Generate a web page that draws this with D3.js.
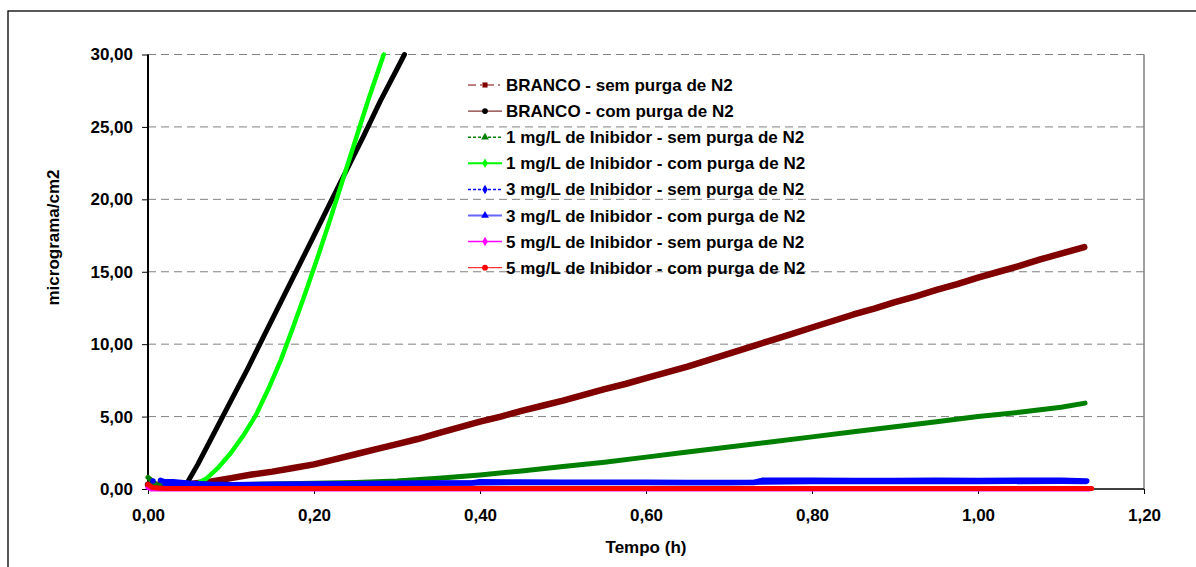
<!DOCTYPE html>
<html>
<head>
<meta charset="utf-8">
<script src="https://cdn.jsdelivr.net/npm/d3@7"></script>
<style>
  body { margin: 0; background: #fff; }
  text { font-family: "Liberation Sans", Arial, sans-serif; font-weight: bold; fill: #000; }
</style>
</head>
<body>
<svg id="chart" width="1196" height="567"></svg>
<script>
// Axis ticks
const xTicks = [0, 0.2, 0.4, 0.6, 0.8, 1.0, 1.2];
const yTicks = [0, 5, 10, 15, 20, 25, 30];

// Series names (legend order = drawing order)
const seriesNames = [
  "BRANCO - sem purga de N2",
  "BRANCO - com purga de N2",
  "1 mg/L de Inibidor - sem purga de N2",
  "1 mg/L de Inibidor - com purga de N2",
  "3 mg/L de Inibidor - sem purga de N2",
  "3 mg/L de Inibidor - com purga de N2",
  "5 mg/L de Inibidor - sem purga de N2",
  "5 mg/L de Inibidor - com purga de N2"
];

// BRANCO - sem purga de N2
const brancoSemT = [0, 0.025, 0.05, 0.075, 0.1, 0.125, 0.15, 0.175, 0.2, 0.225, 0.25, 0.275, 0.3, 0.325, 0.35, 0.375,
  0.4, 0.425, 0.45, 0.475, 0.5, 0.525, 0.55, 0.575, 0.6, 0.625, 0.65, 0.675, 0.7, 0.725, 0.75, 0.775, 0.8, 0.825,
  0.85, 0.875, 0.9, 0.925, 0.95, 0.975, 1.0, 1.025, 1.05, 1.075, 1.1, 1.128];
const brancoSemV = [0.3, 0.3, 0.35, 0.5, 0.75, 1.0, 1.2, 1.45, 1.7, 2.05, 2.4, 2.75, 3.1, 3.45, 3.85, 4.25,
  4.65, 5.0, 5.4, 5.75, 6.1, 6.5, 6.9, 7.25, 7.65, 8.05, 8.45, 8.9, 9.35, 9.8, 10.25, 10.7, 11.15, 11.6,
  12.05, 12.45, 12.9, 13.3, 13.75, 14.15, 14.6, 15.0, 15.4, 15.85, 16.25, 16.7];

// BRANCO - com purga de N2
const brancoComT = [0.045, 0.06, 0.08, 0.1, 0.12, 0.14, 0.16, 0.18, 0.2, 0.22, 0.24, 0.26, 0.28, 0.3, 0.309];
const brancoComV = [0.2, 1.7, 3.9, 6.1, 8.3, 10.6, 12.9, 15.2, 17.5, 19.8, 22.1, 24.4, 26.8, 29.0, 30.0];

// 1 mg/L - sem purga de N2
const ini1SemT = [0, 0.01, 0.05, 0.1, 0.15, 0.2, 0.25, 0.3, 0.35, 0.4, 0.45, 0.5, 0.55, 0.6, 0.65, 0.7, 0.75,
  0.8, 0.85, 0.9, 0.95, 1.0, 1.05, 1.1, 1.129];
const ini1SemV = [0.8, 0.3, 0.25, 0.3, 0.35, 0.4, 0.45, 0.55, 0.75, 0.97, 1.25, 1.55, 1.85, 2.2, 2.55, 2.9, 3.25,
  3.6, 3.95, 4.3, 4.65, 5.0, 5.3, 5.65, 5.93];

// 1 mg/L - com purga de N2
const ini1ComT = [0.055, 0.07, 0.085, 0.1, 0.115, 0.13, 0.145, 0.16, 0.175, 0.19, 0.205, 0.22, 0.235, 0.25, 0.265, 0.284];
const ini1ComV = [0.25, 0.7, 1.5, 2.5, 3.7, 5.1, 6.9, 8.9, 11.2, 13.6, 16.1, 18.7, 21.4, 24.1, 26.8, 30.0];

// 3 mg/L - sem purga de N2 (null = gap)
const ini3SemT = [0.006, 0.01, 0.015, 0.02, 0.03, 0.05, 0.075, 0.1, 0.15, 0.2, 0.25, 0.3, 0.35, 0.39, 0.4, 0.45,
  0.5, 0.55, 0.6, 0.65, 0.7, 0.73, 0.74, 0.8, 0.85, 0.9, 0.95, 1.0, 1.05, 1.1, 1.131];
const ini3SemV = [0.55, null, 0.6, 0.5, 0.5, 0.4, 0.33, 0.3, 0.32, 0.35, 0.37, 0.4, 0.42, 0.42, 0.5, 0.48,
  0.47, 0.46, 0.46, 0.45, 0.45, 0.45, 0.6, 0.6, 0.58, 0.58, 0.6, 0.58, 0.6, 0.6, 0.55];

// 3 mg/L - com purga de N2
const ini3ComT = [0.02, 0.1, 0.2, 0.3, 0.4, 0.5, 0.6, 0.7, 0.8, 0.9, 1.0, 1.1, 1.13];
const ini3ComV = [0.35, 0.3, 0.33, 0.38, 0.42, 0.43, 0.43, 0.44, 0.5, 0.5, 0.5, 0.52, 0.5];

// 5 mg/L - sem purga de N2
const ini5SemT = [0, 0.004, 0.1, 0.3, 0.5, 0.7, 0.9, 1.1, 1.134];
const ini5SemV = [0.1, 0.0, 0.0, 0.0, 0.0, 0.0, 0.0, 0.0, 0.0];

// 5 mg/L - com purga de N2
const ini5ComT = [0, 0.005, 0.02, 0.1, 0.3, 0.5, 0.7, 0.9, 1.1, 1.137];
const ini5ComV = [0.3, 0.1, 0.04, 0.03, 0.03, 0.03, 0.03, 0.03, 0.03, 0.03];

const seriesT = [brancoSemT, brancoComT, ini1SemT, ini1ComT, ini3SemT, ini3ComT, ini5SemT, ini5ComT];
const seriesV = [brancoSemV, brancoComV, ini1SemV, ini1ComV, ini3SemV, ini3ComV, ini5SemV, ini5ComV];

// Styling
const plotColors   = ["#800000", "#000000", "#008000", "#00FF00", "#0000FF", "#0000FF", "#FF00FF", "#FF0000"];
const plotWidths   = [6.5, 5, 5, 4.5, 5.5, 5, 5, 5];
const legendLine   = ["#800000", "#600000", "#008000", "#00FF00", "#0000FF", "#6666FF", "#FF00FF", "#FF0000"];
const legendDash   = ["8,4,2,4", null, "3,2", null, "3,2", null, null, null];
const legendLW     = [1, 1, 1.5, 2, 1.5, 2, 1.5, 1];
const markerColors = ["#800000", "#000000", "#008000", "#00FF00", "#0000FF", "#0000FF", "#FF00FF", "#FF0000"];
const markerTypes  = [d3.symbolSquare, d3.symbolCircle, d3.symbolTriangle, d3.symbolDiamond,
                      d3.symbolDiamond, d3.symbolTriangle, d3.symbolDiamond, d3.symbolCircle];

const svg = d3.select("#chart");
const m = { left: 148, right: 1144, top: 54.5, bottom: 489 };

// outer frame
svg.append("rect").attr("x", 8).attr("y", 11).attr("width", 1220).attr("height", 600)
  .attr("fill", "none").attr("stroke", "#000").attr("stroke-width", 1.3);

const x = d3.scaleLinear().domain([0, 1.2]).range([m.left, m.right]);
const y = d3.scaleLinear().domain([0, 30]).range([m.bottom, m.top]);

const loc = d3.formatLocale({ decimal: ",", thousands: ".", grouping: [3], currency: ["", ""] });
const fmt = loc.format(".2f");

// gridlines
svg.append("g").selectAll("line").data(yTicks.filter(d => d > 0)).join("line")
  .attr("x1", m.left).attr("x2", m.right)
  .attr("y1", d => y(d)).attr("y2", d => y(d))
  .attr("stroke", "#808080").attr("stroke-width", 1).attr("stroke-dasharray", "8,5");

// right border of plot area
svg.append("line").attr("x1", m.right).attr("x2", m.right).attr("y1", m.top).attr("y2", m.bottom)
  .attr("stroke", "#808080").attr("stroke-width", 1.5);

// axes
const yAxis = svg.append("g").attr("transform", `translate(${m.left},0)`)
  .call(d3.axisLeft(y).tickValues(yTicks).tickFormat(fmt).tickSize(6).tickPadding(9));
const xAxis = svg.append("g").attr("transform", `translate(0,${m.bottom})`)
  .call(d3.axisBottom(x).tickValues(xTicks).tickFormat(fmt).tickSize(5).tickPadding(15));
[yAxis, xAxis].forEach(g => {
  g.select(".domain").remove();
  g.selectAll("text").style("font-family", '"Liberation Sans", Arial, sans-serif')
    .style("font-weight", "bold").style("font-size", "17px").attr("fill", "#000");
  g.selectAll(".tick line").attr("stroke", "#000").attr("stroke-width", 1);
});
svg.append("line").attr("x1", m.left).attr("x2", m.left).attr("y1", m.top).attr("y2", m.bottom)
  .attr("stroke", "#000").attr("stroke-width", 2);
svg.append("line").attr("x1", m.left).attr("x2", m.right).attr("y1", m.bottom).attr("y2", m.bottom)
  .attr("stroke", "#000").attr("stroke-width", 1.5);

// axis titles
svg.append("text").attr("x", 646).attr("y", 553).attr("text-anchor", "middle")
  .style("font-size", "17px").text("Tempo (h)");
svg.append("text").attr("transform", "translate(59,237.5) rotate(-90)").attr("text-anchor", "middle")
  .style("font-size", "17px").text("micrograma/cm2");

// series
const line = d3.line().defined(d => d.v != null).x(d => x(d.t)).y(d => y(d.v));
const gSeries = svg.append("g");
seriesNames.forEach((name, i) => {
  const pts = seriesT[i].map((t, k) => ({ t, v: seriesV[i][k] }));
  gSeries.append("path").datum(pts).attr("d", line)
    .attr("fill", "none").attr("stroke", plotColors[i]).attr("stroke-width", plotWidths[i])
    .attr("stroke-linejoin", "round").attr("stroke-linecap", "round");
});

// legend
const lg = svg.append("g");
seriesNames.forEach((name, i) => {
  const cy = 85 + i * 26.1;
  lg.append("line").attr("x1", 468).attr("x2", 502).attr("y1", cy).attr("y2", cy)
    .attr("stroke", legendLine[i]).attr("stroke-width", legendLW[i])
    .attr("stroke-dasharray", legendDash[i]);
  lg.append("path").attr("d", d3.symbol().type(markerTypes[i]).size(26)())
    .attr("transform", `translate(485,${cy})`).attr("fill", markerColors[i]);
  lg.append("text").attr("x", 506).attr("y", cy + 6).style("font-size", "17px").text(name);
});
</script>
</body>
</html>
